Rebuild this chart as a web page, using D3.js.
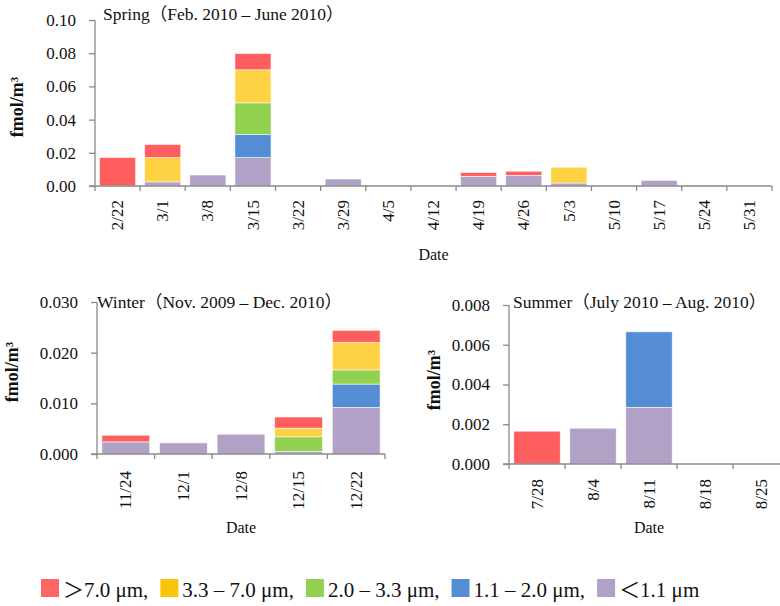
<!DOCTYPE html>
<html>
<head>
<meta charset="utf-8">
<script src="https://cdn.jsdelivr.net/npm/d3@7"></script>
<style>
  html, body { margin: 0; padding: 0; background: #fff; }
  svg { display: block; }
</style>
</head>
<body>
<svg id="chart" width="780" height="606"></svg>
<script>
// Size classes, bottom of the stack first
const sizeKeys   = ["lt11", "s11_20", "s20_33", "s33_70", "gt70"];
const sizeLabels = ["＜1.1 μm", "1.1 – 2.0 μm,", "2.0 – 3.3 μm,", "3.3 – 7.0 μm,", "＞7.0 μm,"];
const barColors  = ["#B1A1C7", "#548DD4", "#92D050", "#FFD244", "#FF5E5E"];
const keyColors  = ["#B1A1C7", "#548DD4", "#92D050", "#F8C50C", "#FF6666"];

// Spring (Feb. 2010 – June 2010)
const springDates  = ["2/22","3/1","3/8","3/15","3/22","3/29","4/5","4/12","4/19","4/26","5/3","5/10","5/17","5/24","5/31"];
const springLt11   = [0, 0.0025, 0.0066, 0.0171, 0, 0.0042, 0, 0, 0.0058, 0.0064, 0.0018, 0, 0.0034, 0, 0];
const springS11_20 = [0, 0, 0, 0.0140, 0, 0, 0, 0, 0, 0, 0, 0, 0, 0, 0];
const springS20_33 = [0, 0, 0, 0.0190, 0, 0, 0, 0, 0, 0, 0, 0, 0, 0, 0];
const springS33_70 = [0, 0.0146, 0, 0.0199, 0, 0, 0, 0, 0, 0, 0.0095, 0, 0, 0, 0];
const springGt70   = [0.0171, 0.0079, 0, 0.0098, 0, 0, 0, 0, 0.0023, 0.0025, 0, 0, 0, 0.0005, 0];
const springTicks  = [0, 0.02, 0.04, 0.06, 0.08, 0.10];

// Winter (Nov. 2009 – Dec. 2010)
const winterDates  = ["11/24","12/1","12/8","12/15","12/22"];
const winterLt11   = [0.0024, 0.0022, 0.0039, 0.0005, 0.0092];
const winterS11_20 = [0, 0, 0, 0, 0.0046];
const winterS20_33 = [0, 0, 0, 0.0029, 0.0028];
const winterS33_70 = [0, 0, 0, 0.0017, 0.0054];
const winterGt70   = [0.0013, 0, 0, 0.0022, 0.0024];
const winterTicks  = [0, 0.010, 0.020, 0.030];

// Summer (July 2010 – Aug. 2010)
const summerDates  = ["7/28","8/4","8/11","8/18","8/25"];
const summerLt11   = [0, 0.0018, 0.00285, 0, 0];
const summerS11_20 = [0, 0, 0.0038, 0, 0];
const summerS20_33 = [0, 0, 0, 0, 0];
const summerS33_70 = [0, 0, 0, 0, 0];
const summerGt70   = [0.00165, 0, 0, 0, 0];
const summerTicks  = [0, 0.002, 0.004, 0.006, 0.008];

const FONT = "'Liberation Serif', 'Times New Roman', 'Noto Sans CJK JP', serif";

function toRows(dates, cols) {
  return dates.map((d, i) => {
    const row = { date: d };
    sizeKeys.forEach((k, j) => { row[k] = cols[j][i]; });
    return row;
  });
}

const svg = d3.select("#chart").attr("font-family", FONT);
const axisColor = "#8A8A8A";
const textColor = "#111";

function drawPanel(p) {
  const rows = toRows(p.dates, p.cols);
  const x = d3.scaleBand().domain(p.dates).range([p.left, p.right]).paddingInner(0).paddingOuter(0);
  const y = d3.scaleLinear().domain([0, p.max]).range([p.bottom, p.top]);
  const g = svg.append("g").attr("font-family", FONT);

  const stack = d3.stack().keys(sizeKeys)(rows);
  const bw = x.bandwidth() * p.barFrac;
  const off = (x.bandwidth() - bw) / 2;

  g.selectAll("g.layer").data(stack).join("g")
    .attr("class", "layer")
    .attr("fill", (d, i) => barColors[i])
    .selectAll("rect").data(d => d.filter(s => s[1] - s[0] > 0)).join("rect")
      .attr("x", d => x(d.data.date) + off)
      .attr("width", bw)
      .attr("y", d => y(d[1]))
      .attr("height", d => Math.max(0.8, y(d[0]) - y(d[1])))
      .attr("stroke", "#fff").attr("stroke-opacity", 0.7).attr("stroke-width", 0.8);

  // y axis
  const yAxis = g.append("g").attr("transform", `translate(${p.left},0)`)
    .call(d3.axisLeft(y).tickValues(p.ticks).tickFormat(d3.format(p.fmt)).tickSize(6).tickPadding(13));
  yAxis.attr("font-family", FONT).attr("font-size", 17);
  yAxis.select(".domain").attr("stroke", axisColor).attr("stroke-width", 1.3).attr("d", `M0,${p.top}V${p.bottom}`);
  yAxis.selectAll(".tick line").attr("stroke", axisColor).attr("stroke-width", 1.3);
  yAxis.selectAll(".tick text").attr("font-size", 17).attr("fill", textColor).attr("font-family", FONT);

  // x axis with ticks at band edges
  const xa = g.append("g").attr("transform", `translate(0,${p.bottom})`);
  xa.append("line").attr("x1", p.left - 6).attr("x2", p.right).attr("y1", 0).attr("y2", 0)
    .attr("stroke", axisColor).attr("stroke-width", 1.3);
  const edges = p.dates.map(d => x(d)).concat([p.right]);
  xa.selectAll("line.edge").data(edges).join("line").attr("class", "edge")
    .attr("x1", d => d).attr("x2", d => d).attr("y1", 0).attr("y2", 5)
    .attr("stroke", axisColor).attr("stroke-width", 1.3);
  xa.selectAll("text.lbl").data(p.dates).join("text").attr("class", "lbl")
    .attr("transform", d => `translate(${x(d) + x.bandwidth() / 2},${p.labelGap}) rotate(-90)`)
    .attr("text-anchor", "end").attr("dy", "0.33em").attr("font-size", 17).attr("fill", textColor)
    .text(d => d);

  // Axis titles and panel title
  g.append("text").attr("x", (p.left + p.right) / 2).attr("y", p.dateY)
    .attr("text-anchor", "middle").attr("font-size", 16).attr("fill", textColor).text("Date");
  g.append("text")
    .attr("transform", `translate(${p.yTitleX},${p.yTitleY}) rotate(-90)`)
    .attr("text-anchor", "middle").attr("font-size", 18).attr("font-weight", "bold").attr("fill", textColor)
    .text("fmol/m³");
  g.append("text").attr("x", p.titleX).attr("y", p.titleY)
    .attr("font-size", 17.5).attr("fill", textColor).text(p.title);
}

drawPanel({
  title: "Spring（Feb. 2010 – June 2010）", titleX: 103, titleY: 20,
  dates: springDates, cols: [springLt11, springS11_20, springS20_33, springS33_70, springGt70],
  ticks: springTicks, fmt: ".2f", max: 0.10,
  left: 95, right: 772, top: 20, bottom: 186, barFrac: 0.8,
  labelGap: 14, dateY: 260, yTitleX: 23, yTitleY: 107
});

drawPanel({
  title: "Winter（Nov. 2009 – Dec. 2010）", titleX: 97, titleY: 308,
  dates: winterDates, cols: [winterLt11, winterS11_20, winterS20_33, winterS33_70, winterGt70],
  ticks: winterTicks, fmt: ".3f", max: 0.030,
  left: 97, right: 385, top: 302, bottom: 454, barFrac: 0.83,
  labelGap: 17, dateY: 533, yTitleX: 18, yTitleY: 372
});

drawPanel({
  title: "Summer（July 2010 – Aug. 2010）", titleX: 513, titleY: 308,
  dates: summerDates, cols: [summerLt11, summerS11_20, summerS20_33, summerS33_70, summerGt70],
  ticks: summerTicks, fmt: ".3f", max: 0.008,
  left: 509, right: 789, top: 305, bottom: 464, barFrac: 0.83,
  labelGap: 15, dateY: 533, yTitleX: 440, yTitleY: 380
});

// Legend, largest size class first
const legend = svg.append("g").attr("font-family", FONT);
let lx = 41;
d3.range(sizeKeys.length - 1, -1, -1).forEach(i => {
  legend.append("rect").attr("x", lx).attr("y", 579).attr("width", 18).attr("height", 18)
    .attr("fill", keyColors[i]);
  const t = legend.append("text").attr("x", lx + 22).attr("y", 597)
    .attr("font-size", 21).attr("fill", textColor).text(sizeLabels[i]);
  lx += 22 + t.node().getComputedTextLength() + 12;
});
</script>
</body>
</html>
